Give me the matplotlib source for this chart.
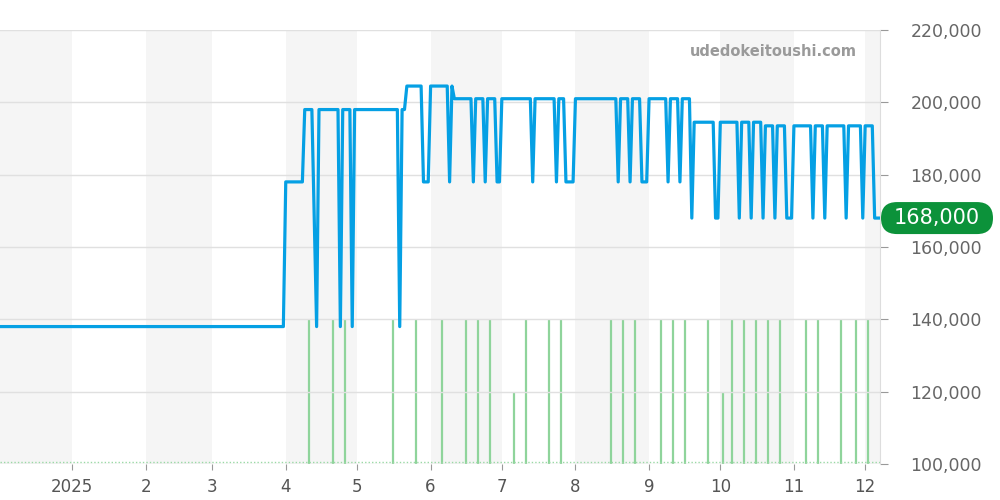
import matplotlib
matplotlib.use("Agg")
import matplotlib.pyplot as plt
import matplotlib.dates as mdates
from matplotlib.patches import FancyBboxPatch
import pandas as pd

plt.rcParams["font.family"] = ["DejaVu Sans"]

# price history (date, yen)
price_dates = [
    "2024-12-01", "2025-03-31", "2025-04-01", "2025-04-08", "2025-04-09",
    "2025-04-12", "2025-04-14", "2025-04-15", "2025-04-23", "2025-04-24",
    "2025-04-25", "2025-04-28", "2025-04-29", "2025-04-30", "2025-05-18",
    "2025-05-19", "2025-05-20", "2025-05-21", "2025-05-22", "2025-05-28",
    "2025-05-29", "2025-05-31", "2025-06-01", "2025-06-08", "2025-06-09",
    "2025-06-10", "2025-06-11", "2025-06-18", "2025-06-19", "2025-06-20",
    "2025-06-23", "2025-06-24", "2025-06-25", "2025-06-28", "2025-06-29",
    "2025-06-30", "2025-07-01", "2025-07-13", "2025-07-14", "2025-07-15",
    "2025-07-23", "2025-07-24", "2025-07-25", "2025-07-27", "2025-07-28",
    "2025-07-31", "2025-08-01", "2025-08-18", "2025-08-19", "2025-08-20",
    "2025-08-23", "2025-08-24", "2025-08-25", "2025-08-28", "2025-08-29",
    "2025-08-31", "2025-09-01", "2025-09-08", "2025-09-09", "2025-09-10",
    "2025-09-13", "2025-09-14", "2025-09-15", "2025-09-18", "2025-09-19",
    "2025-09-20", "2025-09-28", "2025-09-29", "2025-09-30", "2025-10-01",
    "2025-10-08", "2025-10-09", "2025-10-10", "2025-10-13", "2025-10-14",
    "2025-10-15", "2025-10-18", "2025-10-19", "2025-10-20", "2025-10-23",
    "2025-10-24", "2025-10-25", "2025-10-28", "2025-10-29", "2025-10-31",
    "2025-11-01", "2025-11-08", "2025-11-09", "2025-11-10", "2025-11-13",
    "2025-11-14", "2025-11-15", "2025-11-22", "2025-11-23", "2025-11-24",
    "2025-11-29", "2025-11-30", "2025-12-01", "2025-12-04", "2025-12-05",
    "2025-12-07",
]
price_values = [
    138000, 138000, 178000, 178000, 198000,
    198000, 138000, 198000, 198000, 138000,
    198000, 198000, 138000, 198000, 198000,
    138000, 198000, 198000, 204500, 204500,
    178000, 178000, 204500, 204500, 178000,
    204500, 201000, 201000, 178000, 201000,
    201000, 178000, 201000, 201000, 178000,
    178000, 201000, 201000, 178000, 201000,
    201000, 178000, 201000, 201000, 178000,
    178000, 201000, 201000, 178000, 201000,
    201000, 178000, 201000, 201000, 178000,
    178000, 201000, 201000, 178000, 201000,
    201000, 178000, 201000, 201000, 168000,
    194500, 194500, 168000, 168000, 194500,
    194500, 168000, 194500, 194500, 168000,
    194500, 194500, 168000, 193500, 193500,
    168000, 193500, 193500, 168000, 168000,
    193500, 193500, 168000, 193500, 193500,
    168000, 193500, 193500, 168000, 193500,
    193500, 168000, 193500, 193500, 168000,
    168000,
]

# listing counts (green bars)
count_dates = [
    "2025-04-11", "2025-04-21", "2025-04-26", "2025-05-16", "2025-05-26",
    "2025-06-06", "2025-06-16", "2025-06-21", "2025-06-26", "2025-07-06",
    "2025-07-11", "2025-07-21", "2025-07-26", "2025-08-16", "2025-08-21",
    "2025-08-26", "2025-09-06", "2025-09-11", "2025-09-16", "2025-09-26",
    "2025-10-02", "2025-10-06", "2025-10-11", "2025-10-16", "2025-10-21",
    "2025-10-26", "2025-11-06", "2025-11-11", "2025-11-21", "2025-11-27",
    "2025-12-02",
]
count_values = [
    2, 2, 2, 2, 2,
    2, 2, 2, 2, 1,
    2, 2, 2, 2, 2,
    2, 2, 2, 2, 2,
    1, 2, 2, 2, 2,
    2, 2, 2, 2, 2,
    2,
]

current_price = 168000
yticks = [100000, 120000, 140000, 160000, 180000, 200000, 220000]

px = pd.to_datetime(price_dates)
cx = pd.to_datetime(count_dates)
x_start = pd.Timestamp("2024-12-01 16:00")
x_end = pd.Timestamp("2025-12-07 06:00")

fig = plt.figure(figsize=(10, 5), dpi=100)
ax = fig.add_axes([0.0, 0.072, 0.88, 0.868])
ax2 = ax.twinx()

# bottom layer: month bands + counts
ax2.set_zorder(0)
ax.set_zorder(1)
ax.patch.set_visible(False)

band_months = pd.date_range("2024-12-01", "2026-01-01", freq="MS")
for i in range(0, len(band_months) - 1, 2):
    ax2.axvspan(band_months[i], band_months[i + 1], color="#f5f5f5", lw=0, zorder=0)

ax2.vlines(cx, 0, count_values, color="#8fd49b", lw=1.6, zorder=2)
ax2.axhline(0.03, color="#9ad9a5", lw=1, ls=(0, (1, 1.5)), zorder=2)
ax2.set_ylim(0, 6)
ax2.set_yticks([])
for s in ax2.spines.values():
    s.set_visible(False)

# price line
ax.plot(px, price_values, color="#05a0e4", lw=2.3, zorder=3)
ax.set_xlim(x_start, x_end)
ax.set_ylim(100000, 220000)
ax.set_yticks(yticks)
ax.yaxis.set_major_formatter(plt.FuncFormatter(lambda v, p: f"{int(v):,}"))
ax.yaxis.tick_right()
ax.yaxis.grid(True, color="#e0e0e0", lw=1)
ax.set_axisbelow(True)

ax.xaxis.set_major_locator(mdates.MonthLocator())
ax.xaxis.set_major_formatter(plt.FuncFormatter(
    lambda v, p: "2025" if mdates.num2date(v).month == 1 else str(mdates.num2date(v).month)))

ax.tick_params(axis="x", length=4, color="#999999", labelcolor="#555555",
               labelsize=12, pad=6)
ax.tick_params(axis="y", length=6, color="#999999", labelcolor="#666666",
               labelsize=12.5, pad=16)

for name in ["top", "left", "bottom"]:
    ax.spines[name].set_visible(False)
ax.spines["right"].set_color("#dddddd")

# watermark
fig.text(0.857, 1 - 52 / 500, "udedokeitoushi.com", ha="right", va="center",
         fontsize=10.5, fontweight="bold", color="#9a9a9a")

# current price pill
fig.canvas.draw()
ypix = ax.transData.transform((0, current_price))[1]
h_in = 0.32
w_in = 1.12
pill = FancyBboxPatch((8.81, ypix / fig.dpi - h_in / 2), w_in, h_in,
                      boxstyle="round,pad=0,rounding_size=0.16",
                      transform=fig.dpi_scale_trans, facecolor="#0c923a",
                      edgecolor="none", zorder=5)
fig.patches.append(pill)
fig.text((8.81 + w_in / 2) / 10, ypix / fig.get_figheight() / fig.dpi,
         f"{current_price:,}", ha="center", va="center", color="white",
         fontsize=15, zorder=6)

fig.savefig("out.png", dpi=100)
